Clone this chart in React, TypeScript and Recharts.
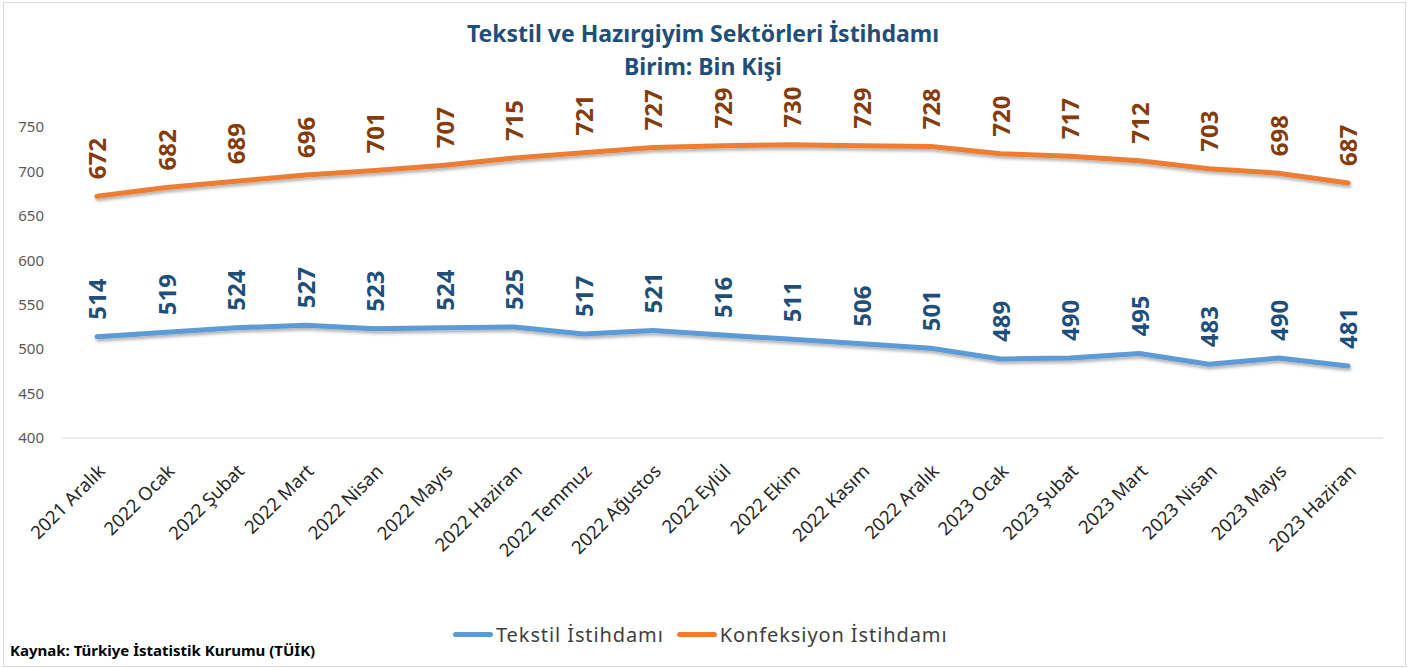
import React from "react";
import { LineChart, Line, XAxis, YAxis } from "recharts";

const months = [
  "2021 Aralık", "2022 Ocak", "2022 Şubat", "2022 Mart", "2022 Nisan", "2022 Mayıs",
  "2022 Haziran", "2022 Temmuz", "2022 Ağustos", "2022 Eylül", "2022 Ekim", "2022 Kasım",
  "2022 Aralık", "2023 Ocak", "2023 Şubat", "2023 Mart", "2023 Nisan", "2023 Mayıs", "2023 Haziran",
];
const tekstil = [514, 519, 524, 527, 523, 524, 525, 517, 521, 516, 511, 506, 501, 489, 490, 495, 483, 490, 481];
const konfeksiyon = [672, 682, 689, 696, 701, 707, 715, 721, 727, 729, 730, 729, 728, 720, 717, 712, 703, 698, 687];
const yTicks = [400, 450, 500, 550, 600, 650, 700, 750];

const FONT = "'Noto Sans', 'Open Sans', sans-serif";
const BLUE = "#5B9BD5";
const ORANGE = "#ED7D31";

const data = months.map((m, i) => ({ month: m, tekstil: tekstil[i], konfeksiyon: konfeksiyon[i] }));

const XTick = ({ x, y, payload }: any) => (
  <g transform={`translate(${x + 4},${y + 27})`}>
    <text transform="rotate(-45)" textAnchor="end" dominantBaseline="central" fontSize={18.5} fill="#262626" fontFamily={FONT}>
      {payload.value}
    </text>
  </g>
);

const valueLabel = (color: string) => (props: any) => {
  const { x, y, value } = props;
  const ly = y - 17;
  return (
    <text
      x={x}
      y={ly}
      transform={`rotate(-90, ${x}, ${ly})`}
      textAnchor="start"
      dominantBaseline="central"
      fontSize={24}
      fontWeight="bold"
      fill={color}
      fontFamily={FONT}
    >
      {value}
    </text>
  );
};

export default function App() {
  return (
    <div style={{ position: "absolute", left: 0, top: 0, width: 1421, height: 668, background: "#fff", fontFamily: FONT }}>
      <div style={{ position: "absolute", left: 3, top: 2, width: 1401, height: 663, border: "1px solid #D9D9D9" }} />
      <div style={{ position: "absolute", left: 0, width: 1406, top: 17, textAlign: "center", color: "#1F4E79", fontWeight: "bold", fontSize: 23, lineHeight: "33px" }}>
        <div>Tekstil ve Hazırgiyim Sektörleri İstihdamı</div>
        <div>Birim: Bin Kişi</div>
      </div>
      <LineChart width={1421} height={668} data={data} margin={{ top: 127, right: 38, left: 0, bottom: 130 }} style={{ position: "absolute", left: 0, top: 0 }}>
        <defs>
          <filter id="lineShadow" x="-5%" y="-50%" width="110%" height="200%">
            <feDropShadow dx="1" dy="2.5" stdDeviation="1.5" floodColor="#000" floodOpacity="0.3" />
          </filter>
        </defs>
        <XAxis
          dataKey="month"
          interval={0}
          height={100}
          padding={{ left: 35, right: 35 }}
          tickSize={0}
          tick={<XTick />}
          axisLine={{ stroke: "#D9D9D9" }}
          tickLine={false}
        />
        <YAxis
          domain={[400, 750]}
          ticks={yTicks}
          width={62}
          tickSize={0}
          tickMargin={18}
          axisLine={false}
          tickLine={false}
          tick={{ fill: "#595959", fontSize: 15, fontFamily: FONT }}
        />
        <Line
          dataKey="tekstil"
          stroke={BLUE}
          strokeWidth={5}
          strokeLinecap="round"
          strokeLinejoin="round"
          dot={false}
          activeDot={false}
          isAnimationActive={false}
          filter="url(#lineShadow)"
          label={valueLabel("#1F4E79")}
        />
        <Line
          dataKey="konfeksiyon"
          stroke={ORANGE}
          strokeWidth={5}
          strokeLinecap="round"
          strokeLinejoin="round"
          dot={false}
          activeDot={false}
          isAnimationActive={false}
          filter="url(#lineShadow)"
          label={valueLabel("#843C0C")}
        />
      </LineChart>
      <div style={{ position: "absolute", left: 453, top: 621, display: "flex", alignItems: "center", fontSize: 20, letterSpacing: 0.9, color: "#404040" }}>
        <span style={{ display: "inline-block", width: 40, height: 5, borderRadius: 3, background: BLUE, marginRight: 3 }} />
        <span>Tekstil İstihdamı</span>
        <span style={{ display: "inline-block", width: 40, height: 5, borderRadius: 3, background: ORANGE, marginLeft: 13, marginRight: 3 }} />
        <span>Konfeksiyon İstihdamı</span>
      </div>
      <div style={{ position: "absolute", left: 10, top: 640, fontSize: 15, fontWeight: "bold", color: "#000" }}>
        Kaynak: Türkiye İstatistik Kurumu (TÜİK)
      </div>
    </div>
  );
}
